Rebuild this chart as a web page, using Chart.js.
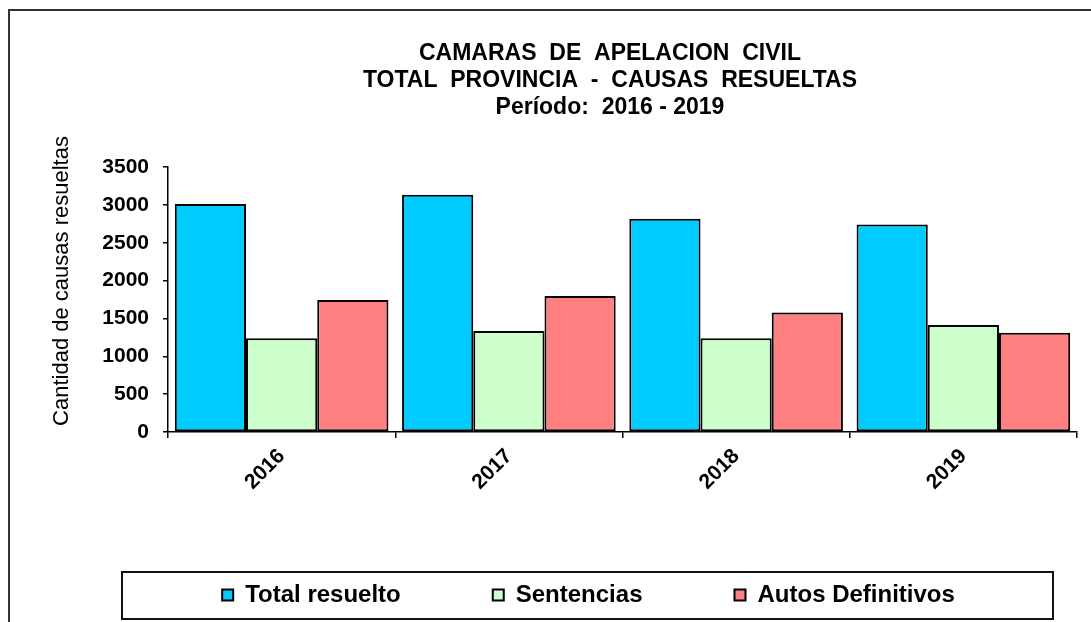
<!DOCTYPE html>
<html>
<head>
<meta charset="utf-8">
<script src="https://cdn.jsdelivr.net/npm/chart.js@4"></script>
<style>
  html, body { margin: 0; padding: 0; background: #fff; }
  #wrap { width: 1091px; height: 622px; }
</style>
</head>
<body>
<div id="wrap"><canvas id="chart" width="1091" height="622"></canvas></div>
<script>
const years = ['2016', '2017', '2018', '2019']
const totalResuelto = [3010, 3135, 2815, 2740]
const sentencias = [1237, 1335, 1237, 1412]
const autosDefinitivos = [1745, 1795, 1577, 1312]
const yTicks = [0, 500, 1000, 1500, 2000, 2500, 3000, 3500]

const titleLines = [
    'CAMARAS  DE  APELACION  CIVIL',
    'TOTAL  PROVINCIA  -  CAUSAS  RESUELTAS',
    'Período:  2016 - 2019'
]
const yTitle = 'Cantidad de causas resueltas'

const FONT = '"Liberation Sans", Arial, sans-serif'

// titles, outer frame and legend box are painted by hand
const decorations = {
    id: 'decorations',
    afterDraw(chart) {
        const ctx = chart.ctx
        ctx.save()
        ctx.strokeStyle = '#333'
        ctx.lineWidth = 2
        ctx.beginPath()
        ctx.moveTo(9, 622)
        ctx.lineTo(9, 10)
        ctx.lineTo(1091, 10)
        ctx.stroke()

        ctx.strokeStyle = '#111'
        ctx.lineWidth = 2
        ctx.strokeRect(122, 572, 931, 47)

        ctx.fillStyle = '#000'
        ctx.textAlign = 'center'
        ctx.textBaseline = 'middle'
        ctx.font = 'bold 23px ' + FONT
        titleLines.forEach((t, i) => ctx.fillText(t, 610, 54 + i * 27))

        ctx.font = '22px ' + FONT
        ctx.translate(62, 281)
        ctx.rotate(-Math.PI / 2)
        ctx.fillText(yTitle, 0, 0)
        ctx.restore()
    }
}

function makeDataset(label, values, color) {
    return {
        label: label,
        data: values,
        backgroundColor: color,
        borderColor: '#000',
        borderWidth: 2,
        borderSkipped: false,
        barPercentage: 1,
        categoryPercentage: 0.94
    }
}

const data = {
    labels: years,
    datasets: [
        makeDataset('Total resuelto', totalResuelto, '#00CCFF'),
        makeDataset('Sentencias', sentencias, '#CCFFCC'),
        makeDataset('Autos Definitivos', autosDefinitivos, '#FF8080')
    ]
}

const config = {
    type: 'bar',
    data: data,
    options: {
        responsive: false,
        animation: false,
        layout: { padding: { top: 167, left: 100, right: 14, bottom: 5 } },
        plugins: {
            title: { display: false },
            tooltip: { enabled: false },
            legend: {
                position: 'bottom',
                labels: {
                    boxWidth: 11,
                    boxHeight: 11,
                    padding: 92,
                    color: '#000',
                    font: { family: FONT, size: 24, weight: 'bold' }
                }
            }
        },
        scales: {
            x: {
                afterFit: (scale) => { scale.height = 59 },
                grid: { drawOnChartArea: false, tickLength: 6, color: '#000', lineWidth: 1.5, offset: true },
                border: { color: '#000', width: 1.5 },
                ticks: {
                    color: '#000',
                    minRotation: 45,
                    maxRotation: 45,
                    padding: 6,
                    font: { family: FONT, size: 21, weight: 'bold' }
                }
            },
            y: {
                min: 0,
                max: 3500,
                afterFit: (scale) => { scale.width = 68 },
                afterBuildTicks: (scale) => { scale.ticks = yTicks.map(v => ({ value: v })) },
                grid: { drawOnChartArea: false, tickLength: 5, color: '#000', lineWidth: 1.5 },
                border: { color: '#000', width: 1.5 },
                ticks: {
                    color: '#000',
                    padding: 14,
                    callback: (v) => String(v),
                    font: { family: FONT, size: 21, weight: 'bold' }
                }
            }
        }
    },
    plugins: [decorations]
}

new Chart(document.getElementById('chart').getContext('2d'), config)
</script>
</body>
</html>
